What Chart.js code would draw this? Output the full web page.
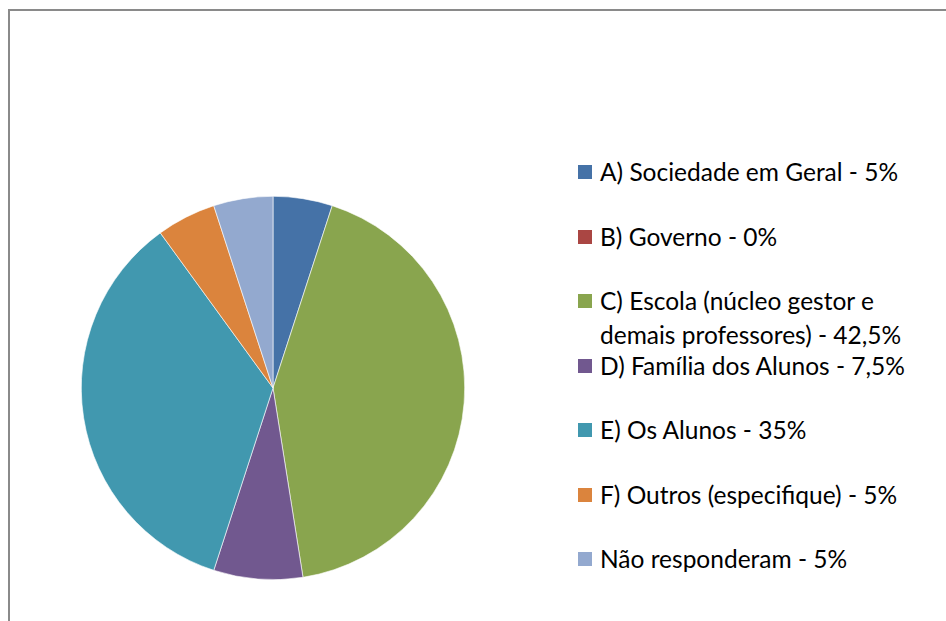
<!DOCTYPE html>
<html>
<head>
<meta charset="utf-8">
<script src="https://cdn.jsdelivr.net/npm/chart.js@4"></script>
<style>
  html, body { margin: 0; padding: 0; background: #fff; }
  body { width: 946px; height: 621px; position: relative; overflow: hidden; font-family: Lato, "Open Sans", sans-serif; }
  #frame { position: absolute; left: 8px; top: 9px; width: 1000px; height: 700px; border-left: 2px solid #8a8a8a; border-top: 2px solid #8a8a8a; }
  #pie-box { position: absolute; left: 81px; top: 196px; width: 384px; height: 384px; }
  #legend { position: absolute; left: 578px; top: 139.75px; }
  .item { height: 64.5px; display: flex; align-items: flex-start; padding-top: 15.25px; box-sizing: border-box; }
  .swatch { width: 14px; height: 14px; margin-top: 10px; margin-right: 8px; flex: none; }
  .txt { font-size: 24.5px; line-height: 34px; color: #000; width: 320px; }
</style>
</head>
<body>
<div id="frame"></div>
<div id="pie-box"><canvas id="myChart"></canvas></div>
<div id="legend"></div>
<script>
const labels = [
  'A) Sociedade em Geral - 5%',
  'B) Governo - 0%',
  'C) Escola (núcleo gestor e demais professores) - 42,5%',
  'D) Família dos Alunos - 7,5%',
  'E) Os Alunos - 35%',
  'F) Outros (especifique) - 5%',
  'Não responderam - 5%'
]
const values = [5, 0, 42.5, 7.5, 35, 5, 5]
const colors = ['#4572A7', '#AA4643', '#89A54E', '#71588F', '#4198AF', '#DB843D', '#93A9CF']

// legend (html so the long label can wrap like the original)
let legend = document.querySelector('#legend')
labels.forEach((t, i) => {
  let item = document.createElement('div')
  item.className = 'item'
  let sw = document.createElement('div')
  sw.className = 'swatch'
  sw.style.background = colors[i]
  let txt = document.createElement('div')
  txt.className = 'txt'
  txt.textContent = t
  item.appendChild(sw)
  item.appendChild(txt)
  legend.appendChild(item)
})

const ctx = document.getElementById('myChart');

new Chart(ctx, {
  type: 'pie',
  data: {
    labels: labels,
    datasets: [{
      data: values,
      backgroundColor: colors,
      borderColor: '#ffffff',
      borderWidth: values.map(v => v > 0 ? 0.6 : 0),
    }],
  },
  options: {
    responsive: true,
    maintainAspectRatio: false,
    animation: false,
    plugins: {
      legend: { display: false },
      tooltip: { enabled: false }
    }
  }
});
</script>
</body>
</html>
